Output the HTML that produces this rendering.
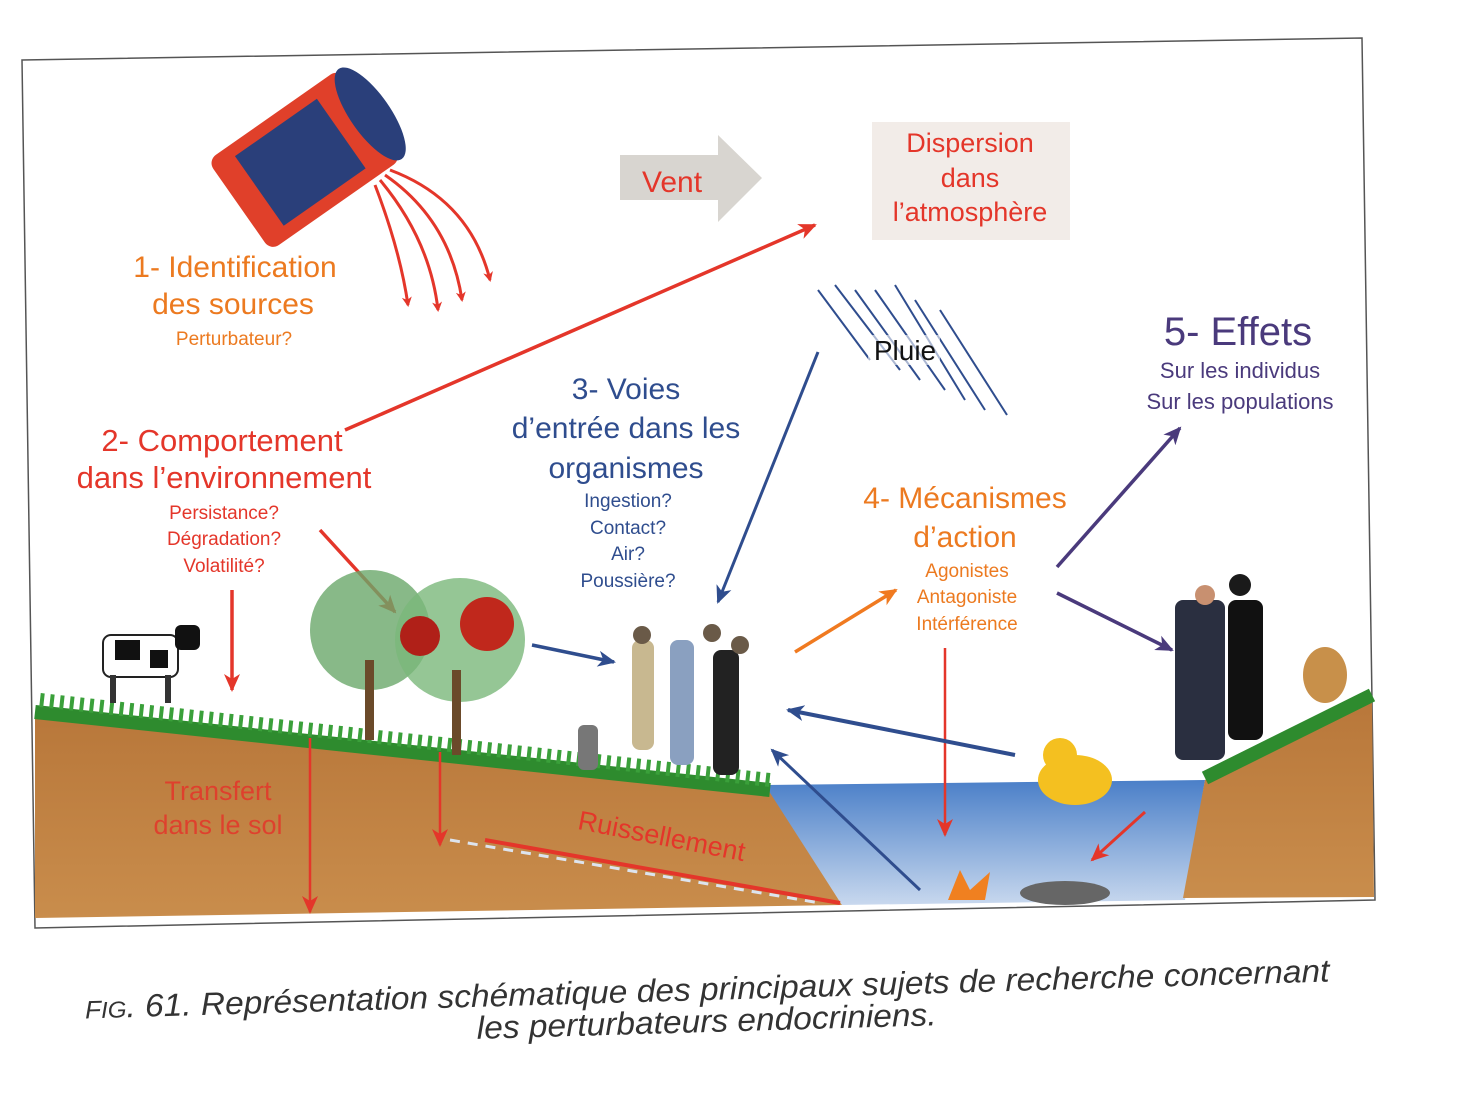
<!DOCTYPE html>
<html><head><meta charset="utf-8"><style>
html,body{margin:0;padding:0;background:#fff;}
svg{display:block;}
text{font-family:"Liberation Sans",sans-serif;}
</style></head><body>
<svg width="1464" height="1098" viewBox="0 0 1464 1098" xmlns="http://www.w3.org/2000/svg">
<defs>
<linearGradient id="soil" x1="0" y1="0" x2="0" y2="1"><stop offset="0" stop-color="#b8773a"/><stop offset="1" stop-color="#c98d4c"/></linearGradient>
<linearGradient id="water" x1="0" y1="0" x2="0" y2="1"><stop offset="0" stop-color="#4a7fc8"/><stop offset="1" stop-color="#c8d8ee"/></linearGradient>
<marker id="ar" markerWidth="10" markerHeight="10" refX="8" refY="5" orient="auto" markerUnits="userSpaceOnUse"><path d="M0,0 L10,5 L0,10 L3,5z" fill="#e4362a"/></marker>
<marker id="ab" markerWidth="20" markerHeight="20" refX="16" refY="10" orient="auto" markerUnits="userSpaceOnUse"><path d="M0,2 L18,10 L0,18 L5,10z" fill="#2f4d8e"/></marker>
<marker id="ap" markerWidth="20" markerHeight="20" refX="16" refY="10" orient="auto" markerUnits="userSpaceOnUse"><path d="M0,2 L18,10 L0,18 L5,10z" fill="#4a3a7c"/></marker>
<marker id="ao" markerWidth="20" markerHeight="20" refX="16" refY="10" orient="auto" markerUnits="userSpaceOnUse"><path d="M0,2 L18,10 L0,18 L5,10z" fill="#f07a20"/></marker>
<marker id="ar2" markerWidth="20" markerHeight="20" refX="16" refY="10" orient="auto" markerUnits="userSpaceOnUse"><path d="M0,2 L18,10 L0,18 L5,10z" fill="#e4362a"/></marker>
</defs>
<polygon points="22,60 1362,38 1375,900 35,928" fill="#fff" stroke="#555" stroke-width="1.5"/>
<polygon points="35,712 770,790 842,905 35,918" fill="url(#soil)"/>
<polygon points="765,785 1205,780 1185,900 842,905" fill="url(#water)"/>
<polygon points="1205,780 1372,700 1374,897 1183,898" fill="url(#soil)"/>
<path d="M35,712 L770,790" stroke="#2e8b2e" stroke-width="14" fill="none"/>
<path d="M40,700 L770,780" stroke="#3aa03a" stroke-width="14" fill="none" stroke-dasharray="4,6"/>
<path d="M1205,778 L1372,695" stroke="#2e8b2e" stroke-width="14" fill="none"/>
<g transform="rotate(-35 310 150)">
<rect x="220" y="100" width="160" height="110" rx="10" fill="#e0402a"/>
<rect x="245" y="112" width="100" height="85" fill="#2a3f7a"/>
<ellipse cx="380" cy="155" rx="20" ry="55" fill="#2a3f7a"/>
</g>
<g stroke="#e4362a" stroke-width="3" fill="none">
<path d="M390,170 Q470,200 490,280" marker-end="url(#ar)"/>
<path d="M385,175 Q450,220 462,300" marker-end="url(#ar)"/>
<path d="M380,180 Q430,240 438,310" marker-end="url(#ar)"/>
<path d="M375,185 Q400,250 408,305" marker-end="url(#ar)"/>
</g>
<polygon points="620,155 718,155 718,135 762,178 718,222 718,200 620,200" fill="#d8d5d0"/>
<text x="672" y="192" font-size="30" fill="#e4362a" text-anchor="middle">Vent</text>
<rect x="872" y="122" width="198" height="118" fill="#f2ece8"/>
<text font-size="27" fill="#e4362a" text-anchor="middle"><tspan x="970" y="152">Dispersion</tspan><tspan x="970" y="187">dans</tspan><tspan x="970" y="221">l’atmosphère</tspan></text>
<g stroke="#2f4d8e" stroke-width="2">
<line x1="818" y1="290" x2="870" y2="360"/><line x1="835" y1="285" x2="900" y2="370"/><line x1="855" y1="290" x2="920" y2="380"/>
<line x1="875" y1="290" x2="945" y2="390"/><line x1="895" y1="285" x2="965" y2="400"/><line x1="915" y1="300" x2="985" y2="410"/><line x1="940" y1="310" x2="1007" y2="415"/>
</g>
<rect x="868" y="335" width="72" height="30" fill="#fff" opacity="0.6"/>
<text x="905" y="360" font-size="28" fill="#111" text-anchor="middle">Pluie</text>
<text font-size="30" fill="#ec7a20" text-anchor="middle"><tspan x="235" y="277">1- Identification</tspan><tspan x="233" y="314">des sources</tspan></text>
<text x="234" y="345" font-size="19" fill="#ec7a20" text-anchor="middle">Perturbateur?</text>
<text font-size="31" fill="#e4362a" text-anchor="middle"><tspan x="222" y="451">2- Comportement</tspan><tspan x="224" y="488">dans l’environnement</tspan></text>
<text font-size="19" fill="#e4362a" text-anchor="middle"><tspan x="224" y="519">Persistance?</tspan><tspan x="224" y="545">Dégradation?</tspan><tspan x="224" y="572">Volatilité?</tspan></text>
<text font-size="30" fill="#2f4d8e" text-anchor="middle"><tspan x="626" y="399">3- Voies</tspan><tspan x="626" y="438">d’entrée dans les</tspan><tspan x="626" y="478">organismes</tspan></text>
<text font-size="19" fill="#2f4d8e" text-anchor="middle"><tspan x="628" y="507">Ingestion?</tspan><tspan x="628" y="534">Contact?</tspan><tspan x="628" y="560">Air?</tspan><tspan x="628" y="587">Poussière?</tspan></text>
<text font-size="30" fill="#ec7a20" text-anchor="middle"><tspan x="965" y="508">4- Mécanismes</tspan><tspan x="965" y="547">d’action</tspan></text>
<text font-size="19" fill="#ec7a20" text-anchor="middle"><tspan x="967" y="577">Agonistes</tspan><tspan x="967" y="603">Antagoniste</tspan><tspan x="967" y="630">Intérférence</tspan></text>
<text x="1238" y="345" font-size="40" fill="#4a3a7c" text-anchor="middle">5- Effets</text>
<text font-size="22" fill="#4a3a7c" text-anchor="middle"><tspan x="1240" y="378">Sur les individus</tspan><tspan x="1240" y="409">Sur les populations</tspan></text>
<g fill="none">
<line x1="345" y1="430" x2="815" y2="225" stroke="#e4362a" stroke-width="3.5" marker-end="url(#ar2)"/>
<line x1="232" y1="590" x2="232" y2="690" stroke="#e4362a" stroke-width="3.5" marker-end="url(#ar2)"/>
<line x1="320" y1="530" x2="395" y2="612" stroke="#e4362a" stroke-width="3.5" marker-end="url(#ar2)"/>
<line x1="310" y1="738" x2="310" y2="912" stroke="#e4362a" stroke-width="2.5" marker-end="url(#ar2)"/>
<line x1="440" y1="752" x2="440" y2="845" stroke="#e4362a" stroke-width="2.5" marker-end="url(#ar2)"/>
<line x1="945" y1="648" x2="945" y2="835" stroke="#e4362a" stroke-width="2.5" marker-end="url(#ar2)"/>
<line x1="1145" y1="812" x2="1092" y2="860" stroke="#e4362a" stroke-width="3" marker-end="url(#ar2)"/>
<line x1="485" y1="840" x2="840" y2="903" stroke="#e4362a" stroke-width="4"/>
<line x1="450" y1="840" x2="820" y2="903" stroke="#dde4ee" stroke-width="3" stroke-dasharray="10,8"/>
<line x1="532" y1="645" x2="614" y2="662" stroke="#2f4d8e" stroke-width="3.5" marker-end="url(#ab)"/>
<line x1="818" y1="352" x2="718" y2="602" stroke="#2f4d8e" stroke-width="3" marker-end="url(#ab)"/>
<line x1="1015" y1="755" x2="788" y2="710" stroke="#2f4d8e" stroke-width="4" marker-end="url(#ab)"/>
<line x1="920" y1="890" x2="772" y2="750" stroke="#2f4d8e" stroke-width="3" marker-end="url(#ab)"/>
<line x1="795" y1="652" x2="896" y2="590" stroke="#f07a20" stroke-width="3.5" marker-end="url(#ao)"/>
<line x1="1057" y1="567" x2="1180" y2="428" stroke="#4a3a7c" stroke-width="3.5" marker-end="url(#ap)"/>
<line x1="1057" y1="593" x2="1172" y2="650" stroke="#4a3a7c" stroke-width="3.5" marker-end="url(#ap)"/>
</g>
<text font-size="27" fill="#e4362a" text-anchor="middle" opacity="0.85"><tspan x="218" y="800">Transfert</tspan><tspan x="218" y="834">dans le sol</tspan></text>
<text x="660" y="845" font-size="27" fill="#e4362a" text-anchor="middle" transform="rotate(11 660 845)">Ruissellement</text>
<rect x="103" y="635" width="75" height="42" rx="8" fill="#fff" stroke="#222" stroke-width="2"/>
<path d="M115,640 h25 v20 h-25z M150,650 h18 v18 h-18z" fill="#111"/>
<rect x="110" y="675" width="6" height="28" fill="#333"/><rect x="165" y="675" width="6" height="28" fill="#333"/>
<rect x="175" y="625" width="25" height="25" rx="6" fill="#111"/>
<ellipse cx="370" cy="630" rx="60" ry="60" fill="#6aa86a" opacity="0.8"/>
<ellipse cx="460" cy="640" rx="65" ry="62" fill="#7ab87a" opacity="0.8"/>
<rect x="365" y="660" width="9" height="80" fill="#6b4a2a"/><rect x="452" y="670" width="9" height="85" fill="#6b4a2a"/>
<circle cx="420" cy="636" r="20" fill="#b02018"/><circle cx="487" cy="624" r="27" fill="#c0281c"/>
<g fill="#6a5a48">
<rect x="632" y="640" width="22" height="110" rx="8" fill="#c8b890"/>
<rect x="670" y="640" width="24" height="125" rx="8" fill="#8aa0c0"/>
<rect x="713" y="650" width="26" height="125" rx="8" fill="#222"/>
<circle cx="642" cy="635" r="9"/><circle cx="712" cy="633" r="9"/><circle cx="740" cy="645" r="9"/>
</g>
<rect x="578" y="725" width="20" height="45" rx="6" fill="#777"/>
<rect x="1175" y="600" width="50" height="160" rx="8" fill="#2a2f40"/>
<rect x="1228" y="600" width="35" height="140" rx="8" fill="#111"/>
<circle cx="1205" cy="595" r="10" fill="#c89070"/><circle cx="1240" cy="585" r="11" fill="#1a1a1a"/>
<ellipse cx="1325" cy="675" rx="22" ry="28" fill="#c8904a"/>
<ellipse cx="1075" cy="780" rx="37" ry="25" fill="#f4c020"/><circle cx="1060" cy="755" r="17" fill="#f4c020"/>
<path d="M948,900 L960,870 L970,890 L990,872 L985,900z" fill="#f08020"/>
<ellipse cx="1065" cy="893" rx="45" ry="12" fill="#666"/>
<g transform="rotate(-1.7 707 1000)" font-style="italic" fill="#333" font-size="32">
<text x="85" y="1000" textLength="1245" lengthAdjust="spacingAndGlyphs"><tspan font-size="25">F</tspan><tspan font-size="23">IG</tspan>. 61. Représentation schématique des principaux sujets de recherche concernant</text>
<text x="476" y="1032" textLength="460" lengthAdjust="spacingAndGlyphs">les perturbateurs endocriniens.</text>
</g>
</svg>
</body></html>
